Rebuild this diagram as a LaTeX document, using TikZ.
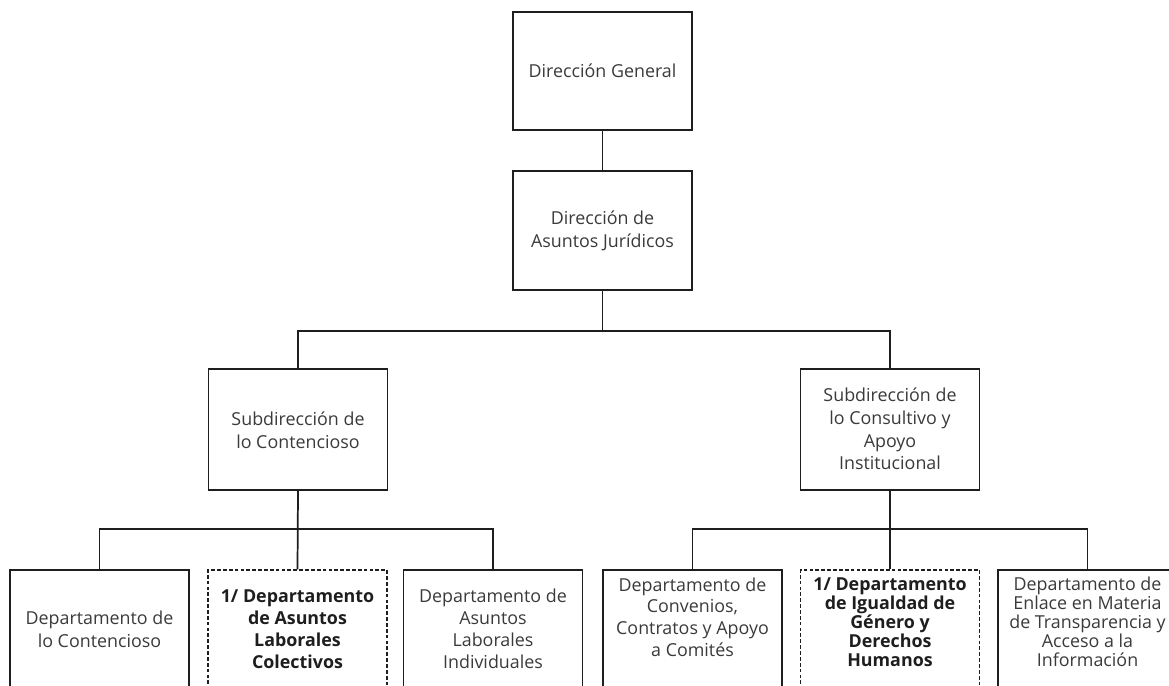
\documentclass[tikz,border=0pt]{standalone}
\usepackage{fontspec}
\setmainfont{Open Sans}
\definecolor{txt}{HTML}{3A3A3A}
\definecolor{ln}{HTML}{1E1E1E}
\begin{document}
\begin{tikzpicture}[x=0.75pt,y=-0.75pt,
  box/.style={draw=ln,line width=1.3pt,rectangle,minimum width=134.25pt,inner sep=0pt},
  dbox/.style={box,dash pattern=on 2.8pt off 1.6pt,line width=1.1pt},
  lbl/.style={text=txt,align=center,inner sep=0pt,font=\fontsize{13.4}{16.5}\selectfont},
  blbl/.style={lbl,font=\fontsize{13.4}{16.5}\selectfont\bfseries,text=ln},
  conn/.style={draw=ln,line width=1.3pt}]
\useasboundingbox (0,0) rectangle (1169,685);
\clip (0,0) rectangle (1169,685);
% top boxes
\node[box,minimum height=88.5pt] (dg) at (602.5,71) {};
\node[lbl] (tdg) at (602.5,71) {Dirección General};
\node[box,minimum height=89.25pt] (daj) at (602.5,230.5) {};
\node[lbl,font=\fontsize{13.4}{17.5}\selectfont] (tdaj) at (602.5,230.5) {Dirección de\\Asuntos Jurídicos};
% sub-directions
\node[box,minimum height=90.75pt] (sc) at (298,429.5) {};
\node[lbl,font=\fontsize{13.4}{17.5}\selectfont] (tsc) at (298,430) {Subdirección de\\lo Contencioso};
\node[box,minimum height=90.75pt] (sci) at (890,429.5) {};
\node[lbl,font=\fontsize{13.4}{17}\selectfont] (tsci) at (890,429) {Subdirección de\\lo Consultivo y\\Apoyo\\Institucional};
% bottom row (cut by the page edge)
\node[box,minimum height=97.5pt] (b1) at (99.5,635) {};
\node[dbox,minimum height=97.5pt] (b2) at (297.5,635) {};
\node[box,minimum height=97.5pt] (b3) at (493,635) {};
\node[box,minimum height=97.5pt] (b4) at (692.5,635) {};
\node[dbox,minimum height=97.5pt] (b5) at (890,635) {};
\node[box,minimum height=97.5pt] (b6) at (1087.5,635) {};
\node[lbl,font=\fontsize{13.4}{17.5}\selectfont] (t1) at (99.5,629) {Departamento de\\lo Contencioso};
\node[blbl] (t2) at (297.5,629) {1/ Departamento\\de Asuntos\\Laborales\\Colectivos};
\node[lbl] (t3) at (493,629) {Departamento de\\Asuntos\\Laborales\\Individuales};
\node[lbl,font=\fontsize{13.4}{16.3}\selectfont] (t4) at (692.5,617) {Departamento de\\Convenios,\\Contratos y Apoyo\\a Comités};
\node[blbl,font=\fontsize{13.4}{14.2}\selectfont\bfseries] (t5) at (890,622) {1/ Departamento\\de Igualdad de\\Género y\\Derechos\\Humanos};
\node[lbl,font=\fontsize{13.4}{14.2}\selectfont] (t6) at (1087.5,622) {Departamento de\\Enlace en Materia\\de Transparencia y\\Acceso a la\\Información};
% connectors
\coordinate (bus) at (602.5,331);
\coordinate (busL) at (298,529);
\coordinate (busR) at (890,529);
\draw[conn] (dg.south) -- (daj.north);
\draw[conn] (daj.south) -- (bus);
\draw[conn] (sc.north) |- (bus) -| (sci.north);
\draw[conn] (sc.south) -- (b2.north);
\draw[conn] (b1.north) |- (busL) -| (b3.north);
\draw[conn] (sci.south) -- (b5.north);
\draw[conn] (b4.north) |- (busR) -| (b6.north);
\end{tikzpicture}
\end{document}
